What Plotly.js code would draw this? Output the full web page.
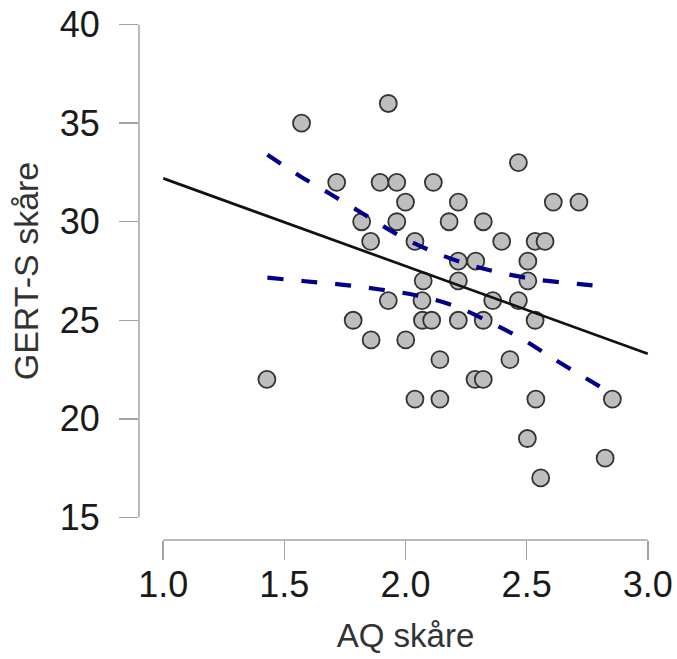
<!DOCTYPE html>
<html>
<head>
<meta charset="utf-8">
<script src="https://cdn.plot.ly/plotly-3.0.1.min.js"></script>
<style>
  html, body { margin: 0; padding: 0; background: #fff; }
  #chart { width: 677px; height: 659px; }
</style>
</head>
<body>
<div id="chart"></div>
<script>
// AQ score (x) and GERT-S score (y) for each participant
const aq = [1.428, 1.571, 1.716, 1.784, 1.819, 1.856, 1.858, 1.895, 1.929, 1.929,
            1.964, 1.964, 2.001, 2.000, 2.039, 2.039, 2.073, 2.068, 2.070, 2.108,
            2.115, 2.142, 2.142, 2.180, 2.218, 2.218, 2.218, 2.218, 2.290, 2.287,
            2.321, 2.321, 2.321, 2.360, 2.397, 2.431, 2.466, 2.466, 2.505, 2.505,
            2.503, 2.535, 2.576, 2.535, 2.538, 2.558, 2.610, 2.716, 2.824, 2.854];
const gerts = [22, 35, 32, 25, 30, 29, 24, 32, 36, 26,
               32, 30, 24, 31, 29, 21, 27, 26, 25, 25,
               32, 23, 21, 30, 31, 28, 27, 25, 28, 22,
               22, 30, 25, 26, 29, 23, 33, 26, 28, 27,
               19, 29, 29, 25, 21, 17, 31, 31, 18, 21];

// regression line
const fitX = [1.0, 3.0];
const fitY = [32.2, 23.3];

// confidence band (upper / lower)
const upperX = [1.43, 1.56, 1.70, 1.83, 1.96, 2.10, 2.25, 2.40, 2.55, 2.71, 2.78];
const upperY = [33.40, 32.35, 31.33, 30.37, 29.40, 28.55, 27.87, 27.39, 27.05, 26.85, 26.76];
const lowerX = [1.43, 1.585, 1.743, 1.895, 2.046, 2.197, 2.349, 2.48, 2.61, 2.741, 2.81];
const lowerY = [27.16, 26.98, 26.80, 26.56, 26.26, 25.75, 24.90, 24.06, 23.05, 22.08, 21.58];

// axis ticks
const xTicks = [1.0, 1.5, 2.0, 2.5, 3.0];
const xTickText = ['1.0', '1.5', '2.0', '2.5', '3.0'];
const yTicks = [15, 20, 25, 30, 35, 40];
const yTickText = ['15', '20', '25', '30', '35', '40'];

const axisGray = '#a3a3a3';
const bandColor = '#00008B';

const traces = [
  {
    x: aq, y: gerts, type: 'scatter', mode: 'markers',
    marker: { size: 17, color: '#bebebe', line: { color: '#333333', width: 1.8 } },
    hoverinfo: 'x+y', showlegend: false
  },
  {
    x: fitX, y: fitY, type: 'scatter', mode: 'lines',
    line: { color: '#111111', width: 2.7 }, showlegend: false
  },
  {
    x: upperX, y: upperY, type: 'scatter', mode: 'lines',
    line: { color: bandColor, width: 4.2, dash: '16px,18px', shape: 'spline' }, showlegend: false
  },
  {
    x: lowerX, y: lowerY, type: 'scatter', mode: 'lines',
    line: { color: bandColor, width: 4.2, dash: '16px,18px', shape: 'spline' }, showlegend: false
  }
];

const layout = {
  width: 677, height: 659,
  margin: { l: 139, r: 5, t: 2, b: 119 },
  paper_bgcolor: '#ffffff', plot_bgcolor: '#ffffff',
  font: { family: '"Liberation Sans", Arial, sans-serif', color: '#1a1a1a' },
  showlegend: false,
  xaxis: {
    range: [0.9, 3.1], showgrid: false, zeroline: false, showline: false,
    tickmode: 'array', tickvals: xTicks, ticktext: xTickText,
    ticks: 'outside', ticklen: 19, tickwidth: 1.5, tickcolor: axisGray,
    tickfont: { size: 36, color: '#1a1a1a' }, ticklabelstandoff: -6,
    title: { text: 'AQ skåre', font: { size: 33, color: '#333333' }, standoff: 19 },
    automargin: false
  },
  yaxis: {
    range: [13.85, 41.15], showgrid: false, zeroline: false, showline: false,
    tickmode: 'array', tickvals: yTicks, ticktext: yTickText,
    ticks: 'outside', ticklen: 19, tickwidth: 1.5, tickcolor: axisGray,
    tickfont: { size: 36, color: '#1a1a1a' }, ticklabelstandoff: 12,
    title: { text: 'GERT-S skåre', font: { size: 34, color: '#333333' }, standoff: 10 },
    automargin: false
  },
  shapes: [
    { type: 'line', xref: 'x', yref: 'paper', x0: 1.0, x1: 3.0, y0: 0, y1: 0,
      line: { color: axisGray, width: 1.5 } },
    { type: 'line', xref: 'paper', yref: 'y', x0: 0, x1: 0, y0: 15, y1: 40,
      line: { color: axisGray, width: 1.5 } }
  ]
};

Plotly.newPlot('chart', traces, layout, { displayModeBar: false, staticPlot: true });
</script>
</body>
</html>
